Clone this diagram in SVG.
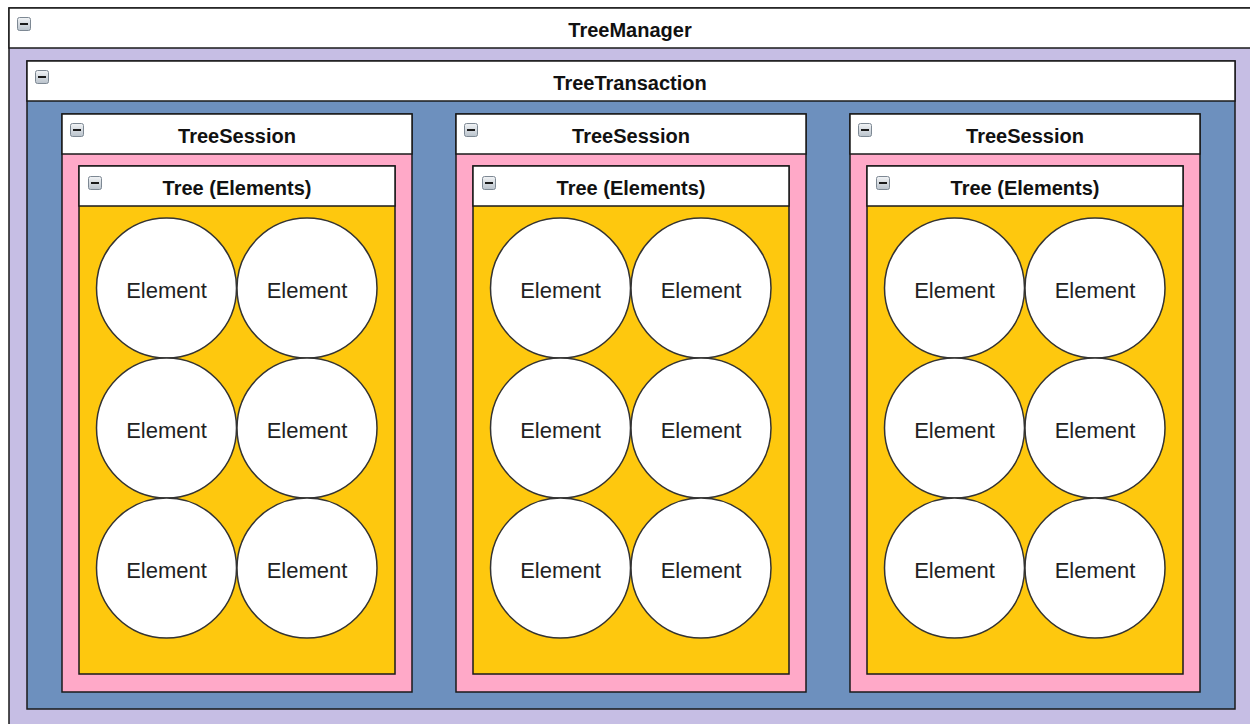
<svg xmlns="http://www.w3.org/2000/svg" width="1250" height="724" viewBox="0 0 1250 724">
<style>
.box{stroke:#1a1a1a;stroke-width:1.5}
.hdr{fill:#ffffff;stroke:#1a1a1a;stroke-width:1.5}
.title{font-family:"Liberation Sans",Arial,sans-serif;font-weight:bold;font-size:20px;fill:#111;text-anchor:middle}
.el{fill:#ffffff;stroke:#333;stroke-width:1.5}
.elt{font-family:"Liberation Sans",Arial,sans-serif;font-size:22px;fill:#222;text-anchor:middle}
</style>
<defs>
<linearGradient id="ig" x1="0" y1="0" x2="0" y2="1">
<stop offset="0" stop-color="#f2f4f6"/>
<stop offset="1" stop-color="#b9c2cb"/>
</linearGradient>
<g id="icon">
<rect x="0.5" y="0.5" width="13" height="13" rx="2" fill="url(#ig)" stroke="#7d8893" stroke-width="1"/>
<rect x="3" y="6" width="8" height="2" fill="#1a1a1a"/>
</g>
<g id="cell">
<circle class="el" cx="0" cy="0" r="70"/>
<text class="elt" x="0" y="10">Element</text>
</g>
<g id="tree">
<rect class="box" x="0" y="0" width="316" height="508" fill="#fec80e"/>
<rect class="hdr" x="0" y="0" width="316" height="40"/>
<use href="#icon" x="9" y="10"/>
<text class="title" x="158" y="29">Tree (Elements)</text>
<use href="#cell" x="87.5" y="122"/>
<use href="#cell" x="228" y="122"/>
<use href="#cell" x="87.5" y="262"/>
<use href="#cell" x="228" y="262"/>
<use href="#cell" x="87.5" y="402"/>
<use href="#cell" x="228" y="402"/>
</g>
</defs>
<rect x="0" y="0" width="1250" height="724" fill="#ffffff"/>
<g id="TreeManager">
<rect class="box" x="9" y="8" width="1250" height="730" fill="#c6bee4"/>
<rect class="hdr" x="9" y="8" width="1250" height="40"/>
<use href="#icon" x="17" y="17"/>
<text class="title" x="630" y="37">TreeManager</text>
</g>
<g id="TreeTransaction">
<rect class="box" x="27" y="61" width="1208" height="648" fill="#6d90be"/>
<rect class="hdr" x="27" y="61" width="1208" height="40"/>
<use href="#icon" x="35" y="70"/>
<text class="title" x="630" y="90">TreeTransaction</text>
</g>
<g id="TreeSession1">
<rect class="box" x="62" y="114" width="350" height="578" fill="#ffa9c8"/>
<rect class="hdr" x="62" y="114" width="350" height="40"/>
<use href="#icon" x="70" y="123"/>
<text class="title" x="237" y="143">TreeSession</text>
</g>
<g id="Tree1"><use href="#tree" x="79" y="166"/></g>
<g id="TreeSession2">
<rect class="box" x="456" y="114" width="350" height="578" fill="#ffa9c8"/>
<rect class="hdr" x="456" y="114" width="350" height="40"/>
<use href="#icon" x="464" y="123"/>
<text class="title" x="631" y="143">TreeSession</text>
</g>
<g id="Tree2"><use href="#tree" x="473" y="166"/></g>
<g id="TreeSession3">
<rect class="box" x="850" y="114" width="350" height="578" fill="#ffa9c8"/>
<rect class="hdr" x="850" y="114" width="350" height="40"/>
<use href="#icon" x="858" y="123"/>
<text class="title" x="1025" y="143">TreeSession</text>
</g>
<g id="Tree3"><use href="#tree" x="867" y="166"/></g>
<g id="connectors"></g>
</svg>
